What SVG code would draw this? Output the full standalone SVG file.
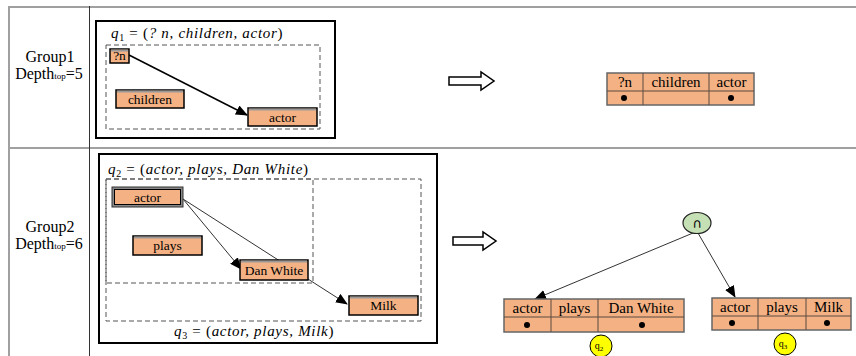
<svg xmlns="http://www.w3.org/2000/svg" width="856" height="356" viewBox="0 0 856 356">
<style>
.grid{stroke:#a0a0a0;stroke-width:2;fill:none}
.frame{fill:none;stroke:#000;stroke-width:2}
.dash{fill:none;stroke:#555;stroke-width:1;stroke-dasharray:5,3}
.node{fill:#f4b183;stroke:#000;stroke-width:1.5}
.top{stroke:#999;stroke-width:2}
.lbl{font-family:"Liberation Serif",serif;font-size:13.5px;fill:#000;text-anchor:middle}
.side{font-family:"Liberation Serif",serif;font-size:16px;fill:#000;text-anchor:middle}
.math{font-family:"Liberation Serif",serif;font-style:italic;font-size:15px;letter-spacing:0.7px;fill:#000}
.tbl{fill:#f4b183;stroke:#666;stroke-width:1.5}
.tline{stroke:#5a4a40;stroke-width:1}
.tt{font-family:"Liberation Serif",serif;font-size:15px;fill:#000;text-anchor:middle}
.hollow{fill:#fff;stroke:#000;stroke-width:1.5}
.c1{stroke:#000;stroke-width:1.5;fill:none}
.c2{stroke:#333;stroke-width:1;fill:none}
</style>
<defs>
<marker id="ah" markerWidth="12" markerHeight="10" refX="11" refY="5" orient="auto" markerUnits="userSpaceOnUse"><path d="M0,0 L12,5 L0,10 z" fill="#000"/></marker>
</defs>
<g id="grid">
<line class="grid" x1="8" y1="7" x2="856" y2="7"/>
<line class="grid" x1="8" y1="148" x2="856" y2="148"/>
<line class="grid" x1="9" y1="6" x2="9" y2="356"/>
<line x1="89.5" y1="6" x2="89.5" y2="356" stroke="#333" stroke-width="1"/>
</g>
<g id="group1-label">
<text class="side" x="50" y="62">Group1</text>
<text class="side" x="49" y="79">Depth<tspan font-size="9">top</tspan>=5</text>
</g>
<g id="group2-label">
<text class="side" x="50" y="232">Group2</text>
<text class="side" x="49" y="249">Depth<tspan font-size="9">top</tspan>=6</text>
</g>
<g id="q1-frame">
<rect class="frame" x="96" y="21" width="239" height="117"/>
<text class="math" x="111" y="38">q<tspan font-size="10" font-style="normal" dy="3">1</tspan><tspan dy="-3" font-style="normal"> = (</tspan>? n, children, actor<tspan font-style="normal">)</tspan></text>
<rect class="dash" x="106" y="45" width="214" height="84"/>
</g>
<g id="connectors">
<line class="c1" x1="129" y1="55" x2="247" y2="115" marker-end="url(#ah)"/>
<line class="c2" x1="183" y1="199" x2="241" y2="269" marker-end="url(#ah)"/>
<line class="c2" x1="183" y1="199" x2="347" y2="304" marker-end="url(#ah)"/>
<line class="c2" x1="693" y1="233" x2="535" y2="299" marker-end="url(#ah)"/>
<line class="c2" x1="698" y1="233" x2="735" y2="297" marker-end="url(#ah)"/>
</g>
<g id="n-qn">
<rect class="node" x="110" y="49" width="19" height="14"/>
<line class="top" x1="111" y1="50.5" x2="128" y2="50.5"/>
<text class="lbl" x="119.5" y="60">?n</text>
</g>
<g id="n-children">
<rect class="node" x="116" y="90" width="68" height="18"/>
<line class="top" x1="117" y1="91.5" x2="183" y2="91.5"/>
<text class="lbl" x="150" y="104">children</text>
</g>
<g id="n-actor1">
<rect class="node" x="248" y="108" width="69" height="18"/>
<line class="top" x1="249" y1="109.5" x2="316" y2="109.5"/>
<text class="lbl" x="282.5" y="122">actor</text>
</g>
<g id="q2q3-frame">
<rect class="frame" x="99" y="154" width="338" height="189"/>
<text class="math" x="108" y="174">q<tspan font-size="10" font-style="normal" dy="3">2</tspan><tspan dy="-3" font-style="normal"> = (</tspan>actor, plays, Dan White<tspan font-style="normal">)</tspan></text>
<rect class="dash" x="106" y="179" width="315" height="142"/>
<rect class="dash" x="106" y="179" width="207" height="104"/>
<text class="math" x="174" y="336">q<tspan font-size="10" font-style="normal" dy="3">3</tspan><tspan dy="-3" font-style="normal"> = (</tspan>actor, plays, Milk<tspan font-style="normal">)</tspan></text>
</g>
<g id="n-actor2">
<rect x="112" y="187" width="71" height="20" fill="#888" stroke="#333" stroke-width="1"/>
<rect x="114.5" y="189.5" width="66" height="15" fill="#f4b183" stroke="#000" stroke-width="1"/>
<text class="lbl" x="147.5" y="202">actor</text>
</g>
<g id="n-plays">
<rect class="node" x="133" y="236" width="69" height="19"/>
<line class="top" x1="134" y1="237.5" x2="201" y2="237.5"/>
<text class="lbl" x="167.5" y="250">plays</text>
</g>
<g id="n-danwhite">
<rect class="node" x="240" y="260" width="68" height="20"/>
<line class="top" x1="241" y1="261.5" x2="307" y2="261.5"/>
<text class="lbl" x="274" y="275">Dan White</text>
</g>
<g id="n-milk">
<rect class="node" x="349" y="296" width="69" height="19"/>
<line class="top" x1="350" y1="297.5" x2="417" y2="297.5"/>
<text class="lbl" x="383.5" y="310">Milk</text>
</g>
<g id="arrow1">
<polygon class="hollow" points="449,77 481,77 481,72 494,81 481,90 481,85 449,85"/>
</g>
<g id="arrow2">
<polygon class="hollow" points="453,237 483,237 483,232 496,241 483,250 483,245 453,245"/>
</g>
<g id="table1">
<rect class="tbl" x="607" y="73" width="147" height="32"/>
<line class="tline" x1="607" y1="91" x2="754" y2="91"/>
<line class="tline" x1="643" y1="73" x2="643" y2="105"/>
<line class="tline" x1="709" y1="73" x2="709" y2="105"/>
<text class="tt" x="625" y="87">?n</text>
<text class="tt" x="676" y="87">children</text>
<text class="tt" x="731.5" y="87">actor</text>
<circle cx="624" cy="98" r="3"/>
<circle cx="731" cy="98" r="3"/>
</g>
<g id="intersect">
<ellipse cx="697" cy="223" rx="14" ry="10.5" fill="#c5e0b4" stroke="#222" stroke-width="1.2"/>
<text x="697" y="228" font-family="DejaVu Sans,sans-serif" font-size="13" text-anchor="middle">∩</text>
</g>
<g id="table2">
<rect class="tbl" x="504" y="299" width="180" height="33"/>
<line class="tline" x1="504" y1="317" x2="684" y2="317"/>
<line class="tline" x1="551" y1="299" x2="551" y2="332"/>
<line class="tline" x1="598" y1="299" x2="598" y2="332"/>
<text class="tt" x="527.5" y="313">actor</text>
<text class="tt" x="574.5" y="313">plays</text>
<text class="tt" x="641" y="313">Dan White</text>
<circle cx="527" cy="325" r="3"/>
<circle cx="642" cy="325" r="3"/>
</g>
<g id="table3">
<rect class="tbl" x="712" y="298" width="139" height="32"/>
<line class="tline" x1="712" y1="316" x2="851" y2="316"/>
<line class="tline" x1="758" y1="298" x2="758" y2="330"/>
<line class="tline" x1="806" y1="298" x2="806" y2="330"/>
<text class="tt" x="735" y="312">actor</text>
<text class="tt" x="782" y="312">plays</text>
<text class="tt" x="828.5" y="312">Milk</text>
<circle cx="732" cy="323" r="3"/>
<circle cx="827" cy="323" r="3"/>
</g>
<g id="q2-tag">
<circle cx="601" cy="346" r="11" fill="#ffff00" stroke="#000" stroke-width="1"/>
<text x="599" y="349" font-family="Liberation Serif,serif" font-size="10" text-anchor="middle">q<tspan font-size="7" dy="2">2</tspan></text>
</g>
<g id="q3-tag">
<circle cx="785" cy="344" r="11" fill="#ffff00" stroke="#000" stroke-width="1"/>
<text x="783" y="347" font-family="Liberation Serif,serif" font-size="10" text-anchor="middle">q<tspan font-size="7" dy="2">3</tspan></text>
</g>
</svg>
